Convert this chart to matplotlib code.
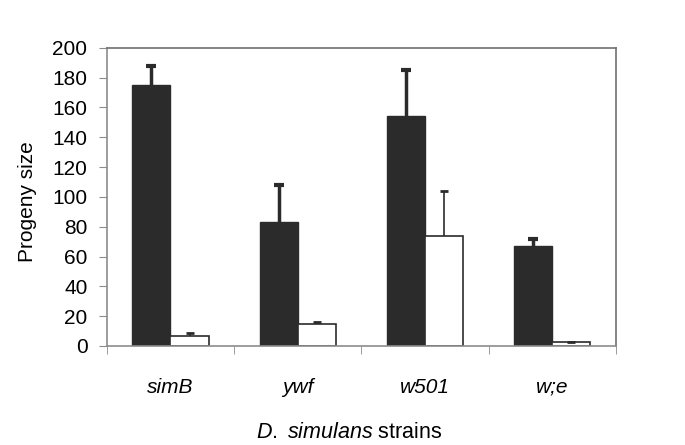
import numpy as np
import matplotlib.pyplot as plt

plt.rcParams['font.family'] = ['Liberation Sans', 'DejaVu Sans']
plt.rcParams['mathtext.fontset'] = 'custom'
plt.rcParams['mathtext.rm'] = 'Liberation Sans'
plt.rcParams['mathtext.it'] = 'Liberation Sans:italic'

strains = ['simB', 'ywf', 'w501', 'w;e']
dark_vals = np.array([175, 83, 154, 67])
dark_err = np.array([13, 25, 31, 5])
white_vals = np.array([7, 15, 74, 2.5])
white_err = np.array([2, 1, 30, 0.3])

x = np.arange(len(strains))
w = 0.3
edge = '#2b2b2b'
grey = '#8c8c8c'

fig = plt.figure(figsize=(6.85, 4.45), dpi=100)
ax = fig.add_axes([0.156, 0.2225, 0.743, 0.67])

ax.bar(x - w/2, dark_vals, w, color=edge, edgecolor=edge, linewidth=1, zorder=2)
ax.vlines(x - w/2, dark_vals, dark_vals + dark_err, color=edge, linewidth=2.5, zorder=3)
ax.plot(x - w/2, dark_vals + dark_err, linestyle='none', marker='_',
        markersize=7, markeredgewidth=3, color=edge, zorder=3)

ax.bar(x + w/2, white_vals, w, color='white', edgecolor=edge, linewidth=1.2, zorder=2)
ax.vlines(x + w/2, white_vals, white_vals + white_err, color=edge, linewidth=1.2, zorder=3)
ax.plot(x + w/2, white_vals + white_err, linestyle='none', marker='_',
        markersize=6, markeredgewidth=2, color=edge, zorder=3)

ax.set_xlim(-0.5, 3.5)
ax.set_ylim(0, 200)
ax.set_yticks(range(0, 201, 20))
ax.set_xticks(x)
ax.set_xticklabels(strains, style='italic', fontsize=15)
ax.set_xticks(np.arange(-0.5, 3.6, 1), minor=True)
ax.tick_params(axis='x', which='major', length=0, pad=23)
ax.tick_params(axis='x', which='minor', length=6, color=grey, direction='out')
ax.tick_params(axis='y', length=6, color=grey, labelsize=15, pad=8)

for s in ['left', 'bottom']:
    ax.spines[s].set_color(grey)
for s in ['top', 'right']:
    ax.spines[s].set_color('#707070')
for s in ax.spines.values():
    s.set_linewidth(1.2)

ax.set_ylabel('Progeny size', fontsize=15)
ax.yaxis.set_label_coords(-0.137, 0.483)
ax.set_xlabel('$\\it{D.\\ simulans}$ strains', fontsize=15.5, va='center')
ax.xaxis.set_label_coords(0.477, -0.289)

fig.savefig('out.png', dpi=100)
